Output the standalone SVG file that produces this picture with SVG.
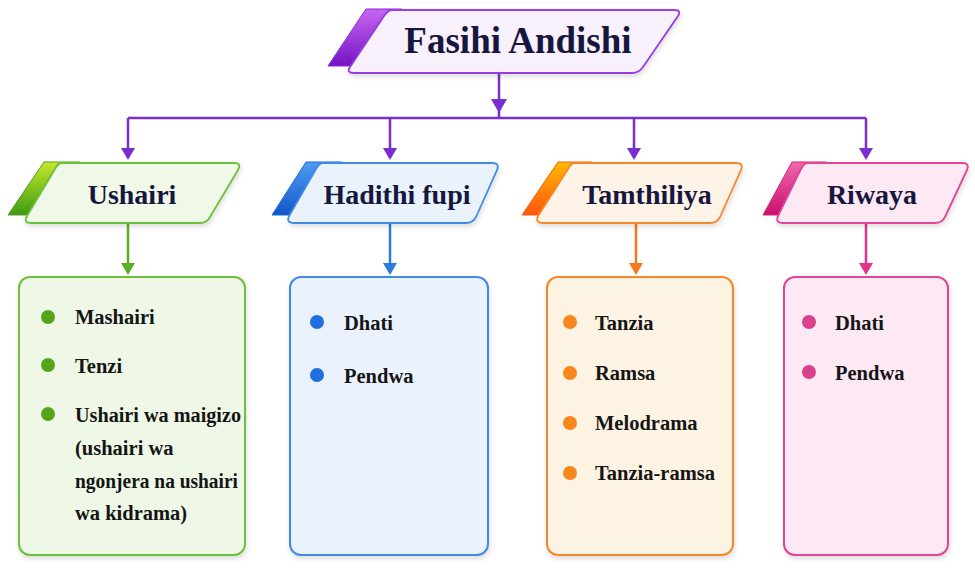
<svg xmlns="http://www.w3.org/2000/svg" width="975" height="574" viewBox="0 0 975 574">
<defs>
<filter id="sh" x="-10%" y="-10%" width="120%" height="130%"><feDropShadow dx="1" dy="3" stdDeviation="2.5" flood-color="#000" flood-opacity="0.13"/></filter>
<linearGradient id="gP" x1="0" y1="0" x2="0" y2="1"><stop offset="0" stop-color="#c866f0"/><stop offset="1" stop-color="#7414c4"/></linearGradient>
<linearGradient id="gG" x1="0" y1="0" x2="0" y2="1"><stop offset="0" stop-color="#c4e82a"/><stop offset="1" stop-color="#3f9a12"/></linearGradient>
<linearGradient id="gB" x1="0" y1="0" x2="0" y2="1"><stop offset="0" stop-color="#4d9ef2"/><stop offset="1" stop-color="#1456c8"/></linearGradient>
<linearGradient id="gO" x1="0" y1="0" x2="0" y2="1"><stop offset="0" stop-color="#ffbb00"/><stop offset="1" stop-color="#ff5510"/></linearGradient>
<linearGradient id="gK" x1="0" y1="0" x2="0" y2="1"><stop offset="0" stop-color="#f068ad"/><stop offset="1" stop-color="#c8106a"/></linearGradient>
</defs>
<style>
.ttl{font-family:"Liberation Serif","Times New Roman",serif;font-weight:bold;fill:#16173f;text-anchor:middle}
.it{font-family:"Liberation Serif","Times New Roman",serif;font-weight:bold;font-size:20.5px;fill:#151515}
.main{stroke-width:1.8;stroke-linejoin:round}
.box{stroke-width:2}
.ln{fill:none;stroke-width:2.5}
</style>
<rect width="975" height="574" fill="#ffffff"/>

<g id="connectors">
<g stroke="#7a2ed0" fill="#7a2ed0">
<path class="ln" d="M499,73 V118 M128,118 H866 M128,118 V150 M390,118 V150 M634,118 V150 M866,118 V150"/>
<polygon points="491,99 507,99 499,113" stroke="none"/>
<polygon points="121,148 135,148 128,160" stroke="none"/>
<polygon points="383,148 397,148 390,160" stroke="none"/>
<polygon points="627,148 641,148 634,160" stroke="none"/>
<polygon points="859,148 873,148 866,160" stroke="none"/>
</g>
<g stroke="#5aae22" fill="#5aae22"><path class="ln" d="M128,223 V265"/><polygon points="121,263 135,263 128,275" stroke="none"/></g>
<g stroke="#2a7ae0" fill="#2a7ae0"><path class="ln" d="M390,223 V265"/><polygon points="383,263 397,263 390,275" stroke="none"/></g>
<g stroke="#f5781e" fill="#f5781e"><path class="ln" d="M636,223 V265"/><polygon points="629,263 643,263 636,275" stroke="none"/></g>
<g stroke="#e0358a" fill="#e0358a"><path class="ln" d="M866,223 V265"/><polygon points="859,263 873,263 866,275" stroke="none"/></g>
</g>

<g id="title">
<path d="M366,9 L402,9 L352,66 L328,66 Z" fill="url(#gP)" stroke="#8a2ad8" stroke-width="1" stroke-linejoin="round"/>
<path class="main" d="M392,10 L674,10 Q682,10 678,16 L643,67 Q639,73 632,73 L354,73 Q346,73 350,67 L384,16 Q388,10 392,10 Z" fill="#f8f1fc" stroke="#9a3ce0" filter="url(#sh)"/>
<text class="ttl" x="518" y="53" font-size="37">Fasihi Andishi</text>
</g>

<g id="ushairi">
<path d="M44,162 L80,162 L32,215 L8,215 Z" fill="url(#gG)" stroke="#4ea01a" stroke-width="1" stroke-linejoin="round"/>
<path class="main" d="M62,163 L234,163 Q242,163 238,170 L210,217 Q207,223 200,223 L31,223 Q23,223 27,216 L55,169 Q58,163 62,163 Z" fill="#f0f9e8" stroke="#6cc03a" filter="url(#sh)"/>
<text class="ttl" x="132" y="204" font-size="28">Ushairi</text>
</g>
<g id="hadithi">
<path d="M306,162 L342,162 L294,215 L272,215 Z" fill="url(#gB)" stroke="#1f66d8" stroke-width="1" stroke-linejoin="round"/>
<path class="main" d="M323,163 L492,163 Q500,163 497,170 L476,217 Q473,223 466,223 L294,223 Q286,223 289,216 L316,169 Q319,163 323,163 Z" fill="#eaf2fc" stroke="#3f8ae6" filter="url(#sh)"/>
<text class="ttl" x="397" y="204" font-size="28">Hadithi fupi</text>
</g>
<g id="tamthiliya">
<path d="M558,162 L592,162 L544,215 L522,215 Z" fill="url(#gO)" stroke="#f06010" stroke-width="1" stroke-linejoin="round"/>
<path class="main" d="M575,163 L736,163 Q744,163 741,170 L720,217 Q717,223 710,223 L543,223 Q535,223 538,216 L568,169 Q571,163 575,163 Z" fill="#fdf3e6" stroke="#f5872a" filter="url(#sh)"/>
<text class="ttl" x="647" y="204" font-size="28">Tamthiliya</text>
</g>
<g id="riwaya">
<path d="M792,162 L826,162 L784,215 L763,215 Z" fill="url(#gK)" stroke="#d0207a" stroke-width="1" stroke-linejoin="round"/>
<path class="main" d="M808,163 L962,163 Q970,163 967,170 L945,217 Q942,223 935,223 L783,223 Q775,223 778,216 L801,169 Q804,163 808,163 Z" fill="#fde9f4" stroke="#e0449a" filter="url(#sh)"/>
<text class="ttl" x="872" y="204" font-size="28">Riwaya</text>
</g>

<g id="box-ushairi">
<rect class="box" x="19" y="277" width="226" height="278" rx="11" fill="#eff8e6" stroke="#6cc03a" filter="url(#sh)"/>
<g fill="#55a41c"><circle cx="48" cy="317" r="7"/><circle cx="48" cy="365" r="7"/><circle cx="48" cy="414" r="7"/></g>
<text class="it" x="75" y="324">Mashairi</text>
<text class="it" x="75" y="373">Tenzi</text>
<text class="it" x="75" y="422" textLength="166" lengthAdjust="spacingAndGlyphs">Ushairi wa maigizo</text>
<text class="it" x="75" y="455">(ushairi wa</text>
<text class="it" x="75" y="488" textLength="163" lengthAdjust="spacingAndGlyphs">ngonjera na ushairi</text>
<text class="it" x="75" y="520">wa kidrama)</text>
</g>
<g id="box-hadithi">
<rect class="box" x="290" y="277" width="198" height="278" rx="11" fill="#eaf2fd" stroke="#3f8ae6" filter="url(#sh)"/>
<g fill="#1f6fe0"><circle cx="317" cy="322" r="7"/><circle cx="317" cy="375" r="7"/></g>
<text class="it" x="344" y="330">Dhati</text>
<text class="it" x="344" y="383">Pendwa</text>
</g>
<g id="box-tamthiliya">
<rect class="box" x="547" y="277" width="186" height="278" rx="11" fill="#fdf3e2" stroke="#f5872a" filter="url(#sh)"/>
<g fill="#f7861c"><circle cx="570" cy="322" r="7"/><circle cx="570" cy="373" r="7"/><circle cx="570" cy="423" r="7"/><circle cx="570" cy="473" r="7"/></g>
<text class="it" x="595" y="330">Tanzia</text>
<text class="it" x="595" y="380">Ramsa</text>
<text class="it" x="595" y="430">Melodrama</text>
<text class="it" x="595" y="480">Tanzia-ramsa</text>
</g>
<g id="box-riwaya">
<rect class="box" x="784" y="277" width="164" height="278" rx="11" fill="#fde9f4" stroke="#e0449a" filter="url(#sh)"/>
<g fill="#d9418a"><circle cx="809" cy="322" r="7"/><circle cx="809" cy="372" r="7"/></g>
<text class="it" x="835" y="330">Dhati</text>
<text class="it" x="835" y="380">Pendwa</text>
</g>
</svg>
